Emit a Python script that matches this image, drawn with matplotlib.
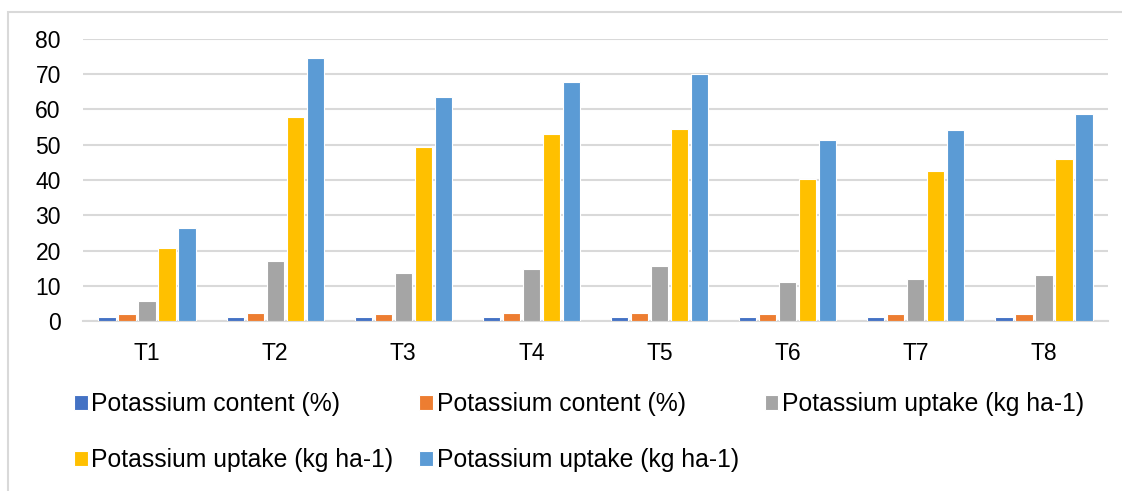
import numpy as np
import matplotlib.pyplot as plt
from matplotlib.patches import Rectangle

plt.rcParams['font.family'] = ['Liberation Sans', 'DejaVu Sans']

# Dados
tratamentos = ["T1", "T2", "T3", "T4", "T5", "T6", "T7", "T8"]
series_nomes = ["Potassium content (%)", "Potassium content (%)", "Potassium uptake (kg ha-1)",
                "Potassium uptake (kg ha-1)", "Potassium uptake (kg ha-1)"]
k_teor_1 = [1.05, 1.2, 1.15, 1.2, 1.2, 1.1, 1.1, 1.15]
k_teor_2 = [2.1, 2.3, 2.1, 2.2, 2.4, 2.0, 2.0, 2.1]
k_absor_1 = [5.6, 17.0, 13.7, 14.8, 15.7, 11.1, 11.8, 13.1]
k_absor_2 = [20.8, 57.8, 49.5, 53.0, 54.6, 40.3, 42.6, 45.9]
k_absor_3 = [26.5, 74.5, 63.5, 67.7, 70.2, 51.3, 54.2, 58.8]
cores = ["#4472C4", "#ED7D31", "#A5A5A5", "#FFC000", "#5B9BD5"]

valores = [k_teor_1, k_teor_2, k_absor_1, k_absor_2, k_absor_3]

W, H = 1122, 491
fig = plt.figure(figsize=(W / 100, H / 100), dpi=100)
ax = fig.add_axes([83 / W, 1 - 321 / H, (1108 - 83) / W, (321 - 39) / H])

x = np.arange(len(tratamentos))
passo = 0.156
largura = 0.135
barras = []
for i, (v, c) in enumerate(zip(valores, cores)):
    b = ax.bar(x + (i - 2) * passo, v, width=largura, color=c, edgecolor='white',
               linewidth=0.8, label=series_nomes[i], zorder=3)
    barras.append(b)

ax.set_xlim(-0.5, len(tratamentos) - 0.5)
ax.set_ylim(0, 80)
ax.set_yticks(range(0, 81, 10))
ax.set_xticks(x)
ax.set_xticklabels(tratamentos)
ax.yaxis.grid(True, color='#D9D9D9', linewidth=1.5, zorder=0)
ax.tick_params(axis='both', length=0, labelsize=16.5, colors='black')
ax.tick_params(axis='y', pad=16)
ax.tick_params(axis='x', pad=15)
for lado in ['top', 'right', 'left']:
    ax.spines[lado].set_visible(False)
ax.spines['bottom'].set_color('#D9D9D9')
ax.spines['bottom'].set_linewidth(1.5)

# legenda: linha 1 -> séries 1,2,3 ; linha 2 -> séries 4,5
ordem = [0, 3, 1, 4, 2]
leg = fig.legend([barras[i] for i in ordem], [series_nomes[i] for i in ordem],
                 ncol=3, loc='upper left', bbox_to_anchor=(74 / W, 1 - 392 / H),
                 frameon=False, fontsize=17.8, handlelength=0.55, handleheight=0.55,
                 handletextpad=0.15, columnspacing=1.05, labelspacing=1.3,
                 borderaxespad=0, borderpad=0)

# moldura da área do gráfico (parcialmente cortada)
fig.patches.append(Rectangle((8 / W, -0.1), 1.2, 1.1 - 12 / H, transform=fig.transFigure,
                             fill=False, edgecolor='#D9D9D9', linewidth=1.5))

fig.savefig('out.png', dpi=100)
